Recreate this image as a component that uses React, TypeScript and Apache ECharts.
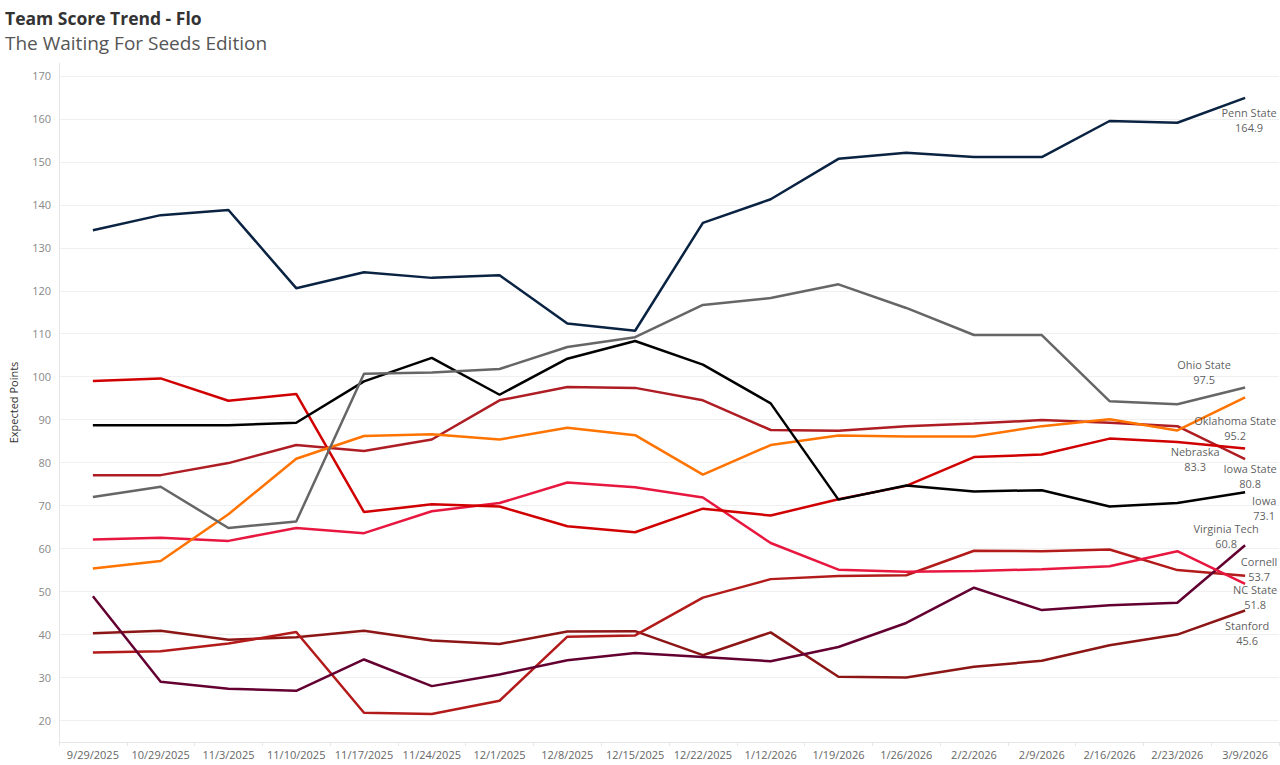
import React, { useEffect, useRef } from "react";
import * as echarts from "echarts";

const categories = [
  "9/29/2025", "10/29/2025", "11/3/2025", "11/10/2025", "11/17/2025", "11/24/2025",
  "12/1/2025", "12/8/2025", "12/15/2025", "12/22/2025", "1/12/2026", "1/19/2026",
  "1/26/2026", "2/2/2026", "2/9/2026", "2/16/2026", "2/23/2026", "3/9/2026",
];

const pennState = [134.1, 137.6, 138.8, 120.6, 124.3, 123.0, 123.6, 112.4, 110.7, 135.8, 141.3, 150.7, 152.1, 151.1, 151.1, 159.5, 159.1, 164.9];
const ohioState = [72.0, 74.4, 64.8, 66.3, 100.7, 101.0, 101.8, 106.9, 109.2, 116.7, 118.3, 121.5, 116.0, 109.7, 109.7, 94.3, 93.6, 97.5];
const iowa = [88.7, 88.7, 88.7, 89.3, 98.9, 104.4, 95.8, 104.2, 108.3, 102.8, 93.8, 71.4, 74.7, 73.3, 73.6, 69.8, 70.6, 73.1];
const oklahomaState = [55.4, 57.1, 68.0, 80.9, 86.2, 86.6, 85.4, 88.1, 86.4, 77.2, 84.1, 86.3, 86.1, 86.1, 88.5, 90.1, 87.5, 95.2];
const nebraska = [99.0, 99.6, 94.4, 96.0, 68.5, 70.3, 69.8, 65.2, 63.8, 69.3, 67.7, 71.5, 74.6, 81.3, 81.9, 85.6, 84.8, 83.3];
const iowaState = [77.1, 77.1, 79.9, 84.1, 82.7, 85.4, 94.5, 97.6, 97.4, 94.5, 87.6, 87.4, 88.5, 89.1, 89.9, 89.3, 88.5, 80.8];
const ncState = [62.1, 62.5, 61.8, 64.8, 63.6, 68.7, 70.6, 75.4, 74.3, 71.9, 61.3, 55.1, 54.6, 54.8, 55.2, 55.9, 59.4, 51.8];
const virginiaTech = [48.9, 29.0, 27.4, 26.9, 34.2, 28.0, 30.7, 34.0, 35.7, 34.8, 33.8, 37.1, 42.7, 50.9, 45.7, 46.8, 47.4, 60.8];
const cornell = [35.8, 36.1, 37.9, 40.6, 21.8, 21.5, 24.6, 39.5, 39.8, 48.6, 52.9, 53.6, 53.8, 59.5, 59.4, 59.8, 55.0, 53.7];
const stanford = [40.3, 40.9, 38.8, 39.4, 40.9, 38.6, 37.8, 40.7, 40.8, 35.2, 40.5, 30.2, 30.0, 32.5, 33.9, 37.5, 40.0, 45.6];

const teams = [
  { name: "Stanford", values: stanford, color: "#8C1515", offset: [2, 23] },
  { name: "Cornell", values: cornell, color: "#B31B1B", offset: [14, -7] },
  { name: "Virginia Tech", values: virginiaTech, color: "#630031", offset: [-19, -9] },
  { name: "NC State", values: ncState, color: "#E8173F", offset: [10, 13] },
  { name: "Iowa State", values: iowaState, color: "#AE1C24", offset: [5, 17] },
  { name: "Nebraska", values: nebraska, color: "#D10000", offset: [-50, 11] },
  { name: "Oklahoma State", values: oklahomaState, color: "#FF7300", offset: [-10, 31] },
  { name: "Iowa", values: iowa, color: "#000000", offset: [19, 16] },
  { name: "Ohio State", values: ohioState, color: "#666666", offset: [-41, -15] },
  { name: "Penn State", values: pennState, color: "#0A2342", offset: [4, 22] },
];

const FONT = "'Open Sans', sans-serif";

export default function App() {
  const ref = useRef<HTMLDivElement>(null);
  useEffect(() => {
    document.body.style.margin = "0";
    const chart = echarts.init(ref.current!, null, { renderer: "svg" });
    const last = categories.length - 1;
    const lineSeries = teams.map((t) => ({
      name: t.name,
      type: "line",
      data: t.values,
      showSymbol: false,
      symbol: "none",
      lineStyle: { width: 2.5, color: t.color },
      itemStyle: { color: t.color },
      z: 2,
    }));
    const labelSeries = {
      type: "scatter",
      name: "labels",
      symbol: "circle",
      symbolSize: 1,
      itemStyle: { color: "rgba(0,0,0,0)" },
      z: 5,
      data: teams.map((t) => ({
        name: t.name,
        value: [categories[last], t.values[last]],
        label: {
          show: true,
          position: "inside",
          offset: t.offset,
          formatter: `${t.name}\n${t.values[last].toFixed(1)}`,
          align: "center",
          verticalAlign: "middle",
          color: "#333",
          fontSize: 11,
          lineHeight: 15,
          fontFamily: FONT,
        },
      })),
    };
    chart.setOption({
      animation: false,
      backgroundColor: "#ffffff",
      title: {
        text: "Team Score Trend - Flo",
        subtext: "The Waiting For Seeds Edition",
        left: 0,
        top: 4,
        itemGap: 6,
        textStyle: { fontFamily: FONT, fontSize: 17.5, fontWeight: "bold", color: "#333" },
        subtextStyle: { fontFamily: FONT, fontSize: 19, color: "#555" },
      },
      grid: { left: 55, right: 1, top: 63, bottom: 23, containLabel: false },
      xAxis: {
        type: "category",
        data: categories,
        boundaryGap: true,
        axisLine: { show: true, lineStyle: { color: "#e6e6e6" } },
        axisTick: { show: true, length: 4, lineStyle: { color: "#e6e6e6" } },
        axisLabel: { interval: 0, color: "#666", fontSize: 11, margin: 7, fontFamily: FONT },
        splitLine: { show: false },
      },
      yAxis: {
        type: "value",
        min: 15,
        max: 173,
        interval: 5,
        name: "Expected Points",
        nameLocation: "middle",
        nameGap: 40,
        nameTextStyle: { color: "#333", fontSize: 11, fontFamily: FONT },
        axisLine: { show: true, lineStyle: { color: "#e6e6e6" } },
        axisTick: { show: false },
        axisLabel: {
          color: "#888",
          fontSize: 11,
          margin: 8,
          fontFamily: FONT,
          formatter: (v: number) => (v % 10 === 0 ? String(v) : ""),
        },
        splitLine: {
          show: true,
          lineStyle: { color: ["rgba(0,0,0,0)", "#f0f0f0"], width: 1 },
        },
      },
      series: [...lineSeries, labelSeries],
    });
    return () => chart.dispose();
  }, []);
  return <div ref={ref} style={{ width: 1280, height: 765 }} />;
}
